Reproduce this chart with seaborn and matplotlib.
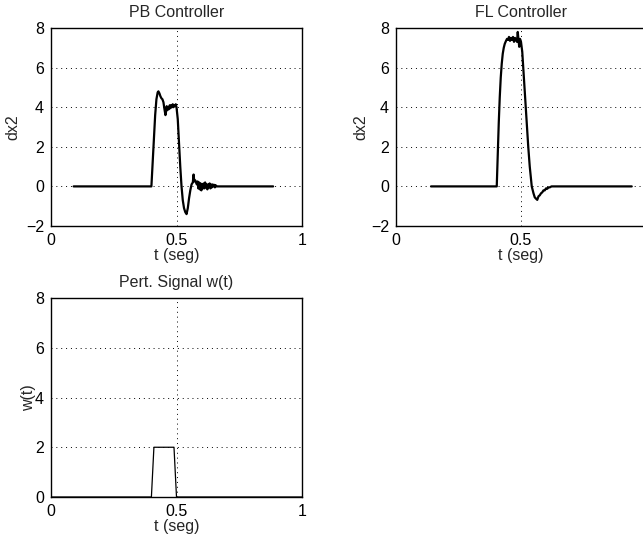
import numpy as np
import pandas as pd
import matplotlib
matplotlib.use("Agg")
import matplotlib.pyplot as plt
import seaborn as sns

# ---- data ----
pb_t = [0.09, 0.400, 0.405, 0.410, 0.415, 0.420, 0.425, 0.428, 0.432, 0.436, 0.440,
        0.444, 0.448, 0.452, 0.456, 0.458, 0.461, 0.464, 0.467, 0.470, 0.473, 0.476,
        0.479, 0.482, 0.485, 0.488, 0.491, 0.494, 0.497, 0.500, 0.505, 0.510, 0.515,
        0.520, 0.525, 0.530, 0.535, 0.540, 0.545, 0.550, 0.555, 0.560, 0.565, 0.568,
        0.571, 0.575, 0.578, 0.581, 0.584, 0.587, 0.590, 0.593, 0.596, 0.599, 0.602,
        0.605, 0.608, 0.611, 0.614, 0.617, 0.620, 0.623, 0.626, 0.629, 0.632, 0.635,
        0.638, 0.641, 0.644, 0.647, 0.650, 0.653, 0.656, 0.659, 0.662, 0.885]
pb_dx2 = [0.0, 0.0, 1.2, 2.4, 3.6, 4.4, 4.75, 4.8, 4.7, 4.55, 4.45,
          4.4, 4.25, 3.9, 3.6, 3.75, 4.05, 3.85, 4.0, 3.9, 4.1, 3.95,
          4.1, 4.0, 4.15, 4.0, 4.1, 4.05, 4.15, 4.0, 3.4, 2.2, 1.0,
          0.0, -0.7, -1.1, -1.3, -1.4, -1.1, -0.6, -0.2, 0.1, 0.2, 0.6,
          0.25, 0.3, 0.2, 0.1, 0.25, -0.1, 0.2, -0.15, 0.15, -0.2, 0.1,
          -0.1, 0.15, -0.1, 0.2, -0.05, 0.1, -0.15, 0.1, 0.0, 0.15, -0.1,
          0.1, -0.05, 0.1, 0.0, 0.08, -0.05, 0.06, 0.0, 0.0, 0.0]

fl_t = [0.14, 0.403, 0.407, 0.411, 0.415, 0.419, 0.423, 0.427, 0.431, 0.435, 0.440,
        0.444, 0.448, 0.452, 0.456, 0.460, 0.464, 0.468, 0.472, 0.476, 0.480, 0.484,
        0.487, 0.490, 0.493, 0.496, 0.500, 0.505, 0.509, 0.515, 0.520, 0.525, 0.529,
        0.535, 0.543, 0.550, 0.555, 0.560, 0.565, 0.570, 0.575, 0.580, 0.585, 0.590,
        0.595, 0.600, 0.605, 0.610, 0.615, 0.622, 0.943]
fl_dx2 = [0.0, 0.0, 1.6, 3.2, 4.5, 5.5, 6.2, 6.7, 7.0, 7.2, 7.35,
          7.45, 7.4, 7.55, 7.35, 7.5, 7.4, 7.55, 7.3, 7.5, 7.4, 7.3,
          7.8, 7.4, 7.05, 7.45, 7.3, 6.8, 6.0, 4.8, 3.8, 2.8, 2.0,
          1.0, 0.0, -0.35, -0.55, -0.62, -0.68, -0.5, -0.45, -0.35, -0.3, -0.2,
          -0.2, -0.1, -0.12, -0.05, -0.05, 0.0, 0.0]

w_t = [0.0, 0.400, 0.410, 0.490, 0.500, 1.0]
w_val = [0.0, 0.0, 2.0, 2.0, 0.0, 0.0]

titles = ["PB Controller", "FL Controller", "Pert. Signal w(t)"]
ylabels = ["dx2", "dx2", "w(t)"]
xlabel = "t (seg)"
xticks = [0, 0.5, 1]
xticklabels = ["0", "0.5", "1"]
# the right panel is cropped at the figure edge, so its "1" label is not visible
xticklabels_cropped = ["0", "0.5", ""]

sns.set_style("white")
plt.rcParams["font.family"] = ["Liberation Sans", "DejaVu Sans"]
plt.rcParams["font.size"] = 11.5

fig = plt.figure(figsize=(6.43, 5.44), dpi=100)
W, H = 643, 544

def make_ax(left_px, top_px, right_px, bottom_px):
    return fig.add_axes([left_px / W, 1 - bottom_px / H,
                         (right_px - left_px) / W, (bottom_px - top_px) / H])

ax1 = make_ax(51, 28, 302, 226)
ax2 = make_ax(396, 28, 646, 226)
ax3 = make_ax(51, 298, 302, 497)

df1 = pd.DataFrame({"t": pb_t, "v": pb_dx2})
df2 = pd.DataFrame({"t": fl_t, "v": fl_dx2})
df3 = pd.DataFrame({"t": w_t, "v": w_val})

sns.lineplot(data=df1, x="t", y="v", ax=ax1, color="black", linewidth=1.6,
             estimator=None, sort=False)
sns.lineplot(data=df2, x="t", y="v", ax=ax2, color="black", linewidth=1.6,
             estimator=None, sort=False)
sns.lineplot(data=df3, x="t", y="v", ax=ax3, color="black", linewidth=0.9,
             estimator=None, sort=False)

label_x = [-0.124, -0.112, -0.06]
ylims = [(-2, 8), (-2, 8), (0, 8)]
yticks_list = [[-2, 0, 2, 4, 6, 8], [-2, 0, 2, 4, 6, 8], [0, 2, 4, 6, 8]]
xtl_list = [xticklabels, xticklabels_cropped, xticklabels]

for ax, title, yl, lx, ylim, yt, xtl in zip([ax1, ax2, ax3], titles, ylabels,
                                            label_x, ylims, yticks_list, xtl_list):
    ax.set_xlim(0, 1)
    ax.set_ylim(*ylim)
    ax.set_xticks(xticks)
    ax.set_xticklabels(xtl)
    ax.set_yticks(yt)
    ax.set_yticklabels(["\u22122" if v == -2 else str(v) for v in yt])
    ax.set_title(title, fontsize=11.5, pad=8)
    ax.set_xlabel(xlabel, fontsize=11.5, labelpad=0)
    ax.set_ylabel(yl, fontsize=11.5)
    ax.yaxis.set_label_coords(lx, 0.5)
    ax.grid(True, color="black", linestyle=(0, (1, 4)), linewidth=0.7)
    ax.tick_params(axis="both", length=0, pad=5, labelsize=11.5, colors="black")
    for s in ax.spines.values():
        s.set_visible(True)
        s.set_color("black")
        s.set_linewidth(1.0)
    ax.set_facecolor("white")

fig.savefig("out.png", dpi=100, facecolor="white")
